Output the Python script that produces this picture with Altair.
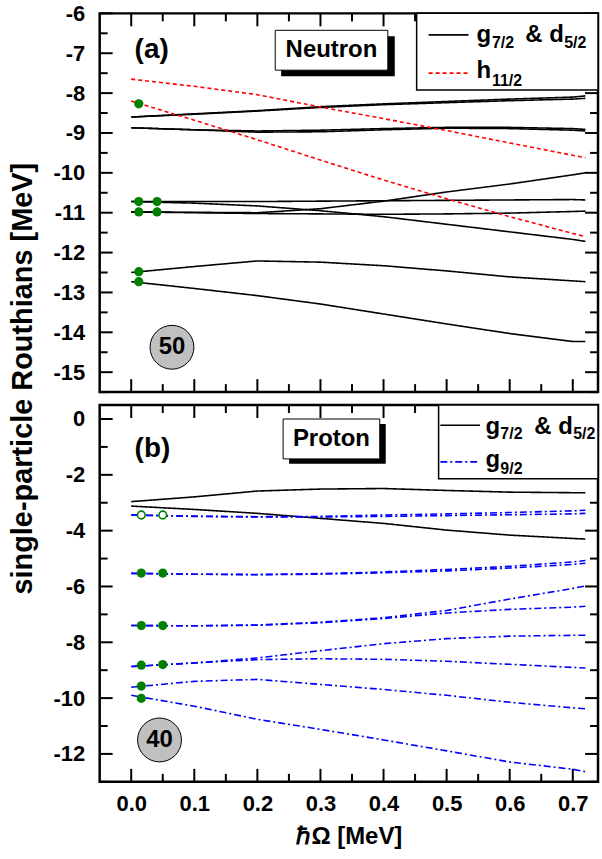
import altair as alt
import pandas as pd

FONT = "Liberation Sans, Arial, Helvetica, sans-serif"

# rotational frequency grid (MeV)
omega = [0.0, 0.1, 0.2, 0.3, 0.4, 0.5, 0.6, 0.7, 0.72]

# ---- neutron Routhians (MeV) ----
neutron_gd = {
    "n1": [-8.60, -8.52, -8.44, -8.34, -8.27, -8.21, -8.15, -8.10, -8.07],
    "n2": [-8.60, -8.53, -8.45, -8.36, -8.29, -8.24, -8.19, -8.15, -8.13],
    "n3": [-8.87, -8.92, -8.95, -8.93, -8.89, -8.86, -8.86, -8.89, -8.91],
    "n4": [-8.87, -8.92, -8.98, -8.97, -8.92, -8.88, -8.89, -8.93, -8.95],
    "n5": [-10.72, -10.72, -10.72, -10.71, -10.70, -10.69, -10.68, -10.67, -10.68],
    "n6": [-10.72, -10.76, -10.83, -10.95, -11.10, -11.29, -11.48, -11.67, -11.72],
    "n7": [-10.98, -10.99, -11.00, -10.90, -10.71, -10.48, -10.28, -10.05, -10.00],
    "n8": [-10.98, -11.00, -11.02, -11.03, -11.04, -11.03, -11.01, -10.97, -10.96],
    "n9": [-12.50, -12.35, -12.21, -12.24, -12.33, -12.46, -12.61, -12.71, -12.73],
    "n10": [-12.73, -12.90, -13.08, -13.29, -13.54, -13.79, -14.03, -14.23, -14.23],
}
neutron_h = {
    "h1": [-7.65, -7.83, -8.04, -8.35, -8.64, -8.94, -9.25, -9.56, -9.62],
    "h2": [-8.20, -8.68, -9.17, -9.68, -10.18, -10.65, -11.10, -11.52, -11.60],
}

# ---- proton Routhians (MeV) ----
proton_gd = {
    "p1": [-2.96, -2.79, -2.58, -2.51, -2.49, -2.56, -2.62, -2.64, -2.64],
    "p2": [-3.12, -3.24, -3.38, -3.56, -3.74, -3.98, -4.16, -4.28, -4.30],
}
proton_g9 = {
    "g1": [-3.44, -3.48, -3.50, -3.49, -3.44, -3.40, -3.35, -3.29, -3.27],
    "g2": [-3.44, -3.49, -3.51, -3.51, -3.49, -3.46, -3.43, -3.40, -3.38],
    "g3": [-5.53, -5.56, -5.57, -5.54, -5.48, -5.39, -5.28, -5.12, -5.07],
    "g4": [-5.53, -5.56, -5.58, -5.56, -5.51, -5.44, -5.34, -5.21, -5.17],
    "g5": [-7.40, -7.41, -7.38, -7.28, -7.12, -6.86, -6.45, -6.07, -5.98],
    "g6": [-7.40, -7.41, -7.39, -7.30, -7.15, -6.95, -6.82, -6.74, -6.71],
    "g7": [-8.87, -8.74, -8.56, -8.30, -8.05, -7.87, -7.78, -7.75, -7.75],
    "g8": [-8.87, -8.74, -8.62, -8.59, -8.61, -8.68, -8.79, -8.90, -8.92],
    "g9": [-9.61, -9.40, -9.33, -9.51, -9.69, -9.90, -10.15, -10.35, -10.38],
    "g10": [-9.90, -10.29, -10.76, -11.12, -11.50, -11.89, -12.29, -12.55, -12.64],
}

# occupied orbitals marked at the two lowest frequencies
neutron_dot_omega = [0.012, 0.041]
neutron_dots_first = [-8.27, -10.72, -10.98, -12.48, -12.73]
neutron_dots_second = [-10.72, -10.98]
proton_dot_omega = [0.016, 0.05]
proton_dots_first = [-5.52, -7.40, -8.82, -9.57, -10.01]
proton_dots_second = [-5.52, -7.40, -8.80]
proton_open_dots = [-3.44, -3.44]

# axis ticks
x_major = [0.0, 0.1, 0.2, 0.3, 0.4, 0.5, 0.6, 0.7]
x_minor = [0.05, 0.15, 0.25, 0.35, 0.45, 0.55, 0.65]
n_major = [-15, -14, -13, -12, -11, -10, -9, -8, -7, -6]
n_minor = [-15.5, -14.5, -13.5, -12.5, -11.5, -10.5, -9.5, -8.5, -7.5, -6.5]
p_major = [-12, -10, -8, -6, -4, -2, 0]
p_minor = [-13, -11, -9, -7, -5, -3, -1]

W = 500
H_TOP = 380
H_BOT = 378
MAJ, MIN = 13, 8

xscale = alt.Scale(domain=[-0.05, 0.74], nice=False, zero=False)
n_yscale = alt.Scale(domain=[-15.5, -6], nice=False, zero=False)
p_yscale = alt.Scale(domain=[-13, 0.5], nice=False, zero=False)

BLACK, RED, BLUE, GREEN = "#000000", "#ff0000", "#0000ff", "#008000"
SOLID, DASHED, DASHDOT = [1, 0], [4, 3], [7, 3, 2, 3]


def long_table(curves):
    rows = []
    for name, vals in curves.items():
        for w, e in zip(omega, vals):
            rows.append({"omega": w, "e": e, "curve": name})
    return pd.DataFrame(rows)


def lines(curves, ys, color, dash):
    return alt.Chart(long_table(curves)).mark_line(
        color=color, strokeWidth=1.6, strokeDash=dash
    ).encode(
        x=alt.X("omega:Q", scale=xscale, axis=None),
        y=alt.Y("e:Q", scale=ys, axis=None),
        detail="curve:N",
    )


def dots_at(w, vals, ys):
    df = pd.DataFrame({"omega": [w] * len(vals), "e": vals})
    return alt.Chart(df).mark_circle(size=85, color=GREEN, opacity=1).encode(
        x=alt.X("omega:Q", scale=xscale, axis=None),
        y=alt.Y("e:Q", scale=ys, axis=None))


def frame_ticks(ys, y_major, y_minor, height):
    out = []
    for vals, ln in ((x_major, MAJ), (x_minor, MIN)):
        d = pd.DataFrame({"v": vals})
        base = alt.Chart(d).mark_rule(color="black", strokeWidth=2)
        out.append(base.encode(x=alt.X("v:Q", scale=xscale, axis=None),
                               y=alt.value(height), y2=alt.value(height - ln)))
        out.append(base.encode(x=alt.X("v:Q", scale=xscale, axis=None),
                               y=alt.value(0), y2=alt.value(ln)))
    for vals, ln in ((y_major, MAJ), (y_minor, MIN)):
        d = pd.DataFrame({"v": vals})
        base = alt.Chart(d).mark_rule(color="black", strokeWidth=2)
        out.append(base.encode(y=alt.Y("v:Q", scale=ys, axis=None),
                               x=alt.value(0), x2=alt.value(ln)))
        out.append(base.encode(y=alt.Y("v:Q", scale=ys, axis=None),
                               x=alt.value(W), x2=alt.value(W - ln)))
    return out


def label_axis(vals, title=None):
    kw = dict(values=vals, ticks=False, domain=False, grid=False, labelFont=FONT,
              labelFontSize=22, labelFontWeight="bold", labelColor="black",
              labelPadding=15, labelOverlap=False, labelExpr="'' + datum.value")
    if title:
        kw.update(title=title, titleFont=FONT, titleFontSize=29, titleFontWeight="bold",
                  titleColor="black", titleAngle=270, titleX=-68, titleY=366,
                  titleAlign="center", titleBaseline="alphabetic")
    else:
        kw.update(title=None)
    return alt.Axis(**kw)


def rect(x, x2, y, y2, ys, **style):
    d = pd.DataFrame({"x": [x], "x2": [x2], "y": [y], "y2": [y2]})
    return alt.Chart(d).mark_rect(**style).encode(
        x=alt.X("x:Q", scale=xscale, axis=None), x2="x2:Q",
        y=alt.Y("y:Q", scale=ys, axis=None), y2="y2:Q")


def text(x, y, s, ys, size=24, align="left", baseline="alphabetic"):
    d = pd.DataFrame({"x": [x], "y": [y], "t": [s]})
    return alt.Chart(d).mark_text(font=FONT, fontSize=size, fontWeight="bold", color="black",
                                  align=align, baseline=baseline).encode(
        x=alt.X("x:Q", scale=xscale, axis=None),
        y=alt.Y("y:Q", scale=ys, axis=None), text="t:N")


def sample(x, x2, y, ys, color, dash):
    d = pd.DataFrame({"x": [x], "x2": [x2], "y": [y]})
    return alt.Chart(d).mark_rule(color=color, strokeWidth=1.6, strokeDash=dash).encode(
        x=alt.X("x:Q", scale=xscale, axis=None), x2="x2:Q",
        y=alt.Y("y:Q", scale=ys, axis=None))


def badge(x, y, s, ys):
    d = pd.DataFrame({"x": [x], "y": [y], "t": [s]})
    circ = alt.Chart(d).mark_circle(size=1936, color="#c0c0c0", stroke="black",
                                    strokeWidth=1, opacity=1).encode(
        x=alt.X("x:Q", scale=xscale, axis=None), y=alt.Y("y:Q", scale=ys, axis=None))
    return [circ, text(x, y, s, ys, size=24, align="center", baseline="middle")]


def axis_anchor(yvals, ys, yaxis, xaxis=None):
    # invisible points that carry the label-only axes
    d = pd.DataFrame({"x": [x_major[0]] * len(yvals), "v": yvals})
    return alt.Chart(d).mark_point(opacity=0).encode(
        x=alt.X("x:Q", scale=xscale, axis=xaxis),
        y=alt.Y("v:Q", scale=ys, axis=yaxis))


# ---------------- neutron panel ----------------
top_layers = [axis_anchor(n_major, n_yscale,
                          label_axis(n_major, "single-particle Routhians [MeV]"))]
top_layers += frame_ticks(n_yscale, n_major, n_minor, H_TOP)
top_layers += [
    lines(neutron_gd, n_yscale, BLACK, SOLID),
    lines(neutron_h, n_yscale, RED, DASHED),
    dots_at(neutron_dot_omega[0], neutron_dots_first, n_yscale),
    dots_at(neutron_dot_omega[1], neutron_dots_second, n_yscale),
    text(0.0054, -6.925, "(a)", n_yscale, size=28, baseline="middle"),
    rect(0.2377, 0.4178, -6.575, -7.575, n_yscale, color="black"),
    rect(0.2283, 0.4068, -6.425, -7.425, n_yscale, fill="white", stroke="black", strokeWidth=1),
    text(0.3174, -6.925, "Neutron", n_yscale, size=24, align="center", baseline="middle"),
    rect(0.4525, 0.74, -6.0, -7.92, n_yscale, fill="white", stroke="black", strokeWidth=1.5),
    sample(0.4715, 0.5347, -6.54, n_yscale, BLACK, SOLID),
    sample(0.4715, 0.5347, -7.50, n_yscale, RED, DASHED),
    text(0.5473, -6.71, "g", n_yscale),
    text(0.5718, -6.875, "7/2", n_yscale, size=16),
    text(0.6247, -6.71, "& d", n_yscale),
    text(0.6864, -6.875, "5/2", n_yscale, size=16),
    text(0.5473, -7.625, "h", n_yscale),
    text(0.5718, -7.825, "11/2", n_yscale, size=16),
]
top_layers += badge(0.0646, -14.375, "50", n_yscale)

top = alt.layer(*top_layers).properties(width=W, height=H_TOP).resolve_axis(
    x="independent", y="independent")

# ---------------- proton panel ----------------
x_axis = alt.Axis(values=x_major, format=".1f", ticks=False, domain=False, grid=False,
                  labelFont=FONT, labelFontSize=22, labelFontWeight="bold",
                  labelColor="black", labelPadding=12, labelFlush=False,
                  labelOverlap=False, title="ℏΩ [MeV]", titleFont=FONT,
                  titleFontSize=24, titleFontWeight="bold", titleColor="black",
                  titlePadding=10)

bottom_layers = [axis_anchor(p_major, p_yscale, label_axis(p_major), x_axis)]
bottom_layers += frame_ticks(p_yscale, p_major, p_minor, H_BOT)
bottom_layers += [
    lines(proton_gd, p_yscale, BLACK, SOLID),
    lines(proton_g9, p_yscale, BLUE, DASHDOT),
    dots_at(proton_dot_omega[0], proton_dots_first, p_yscale),
    dots_at(proton_dot_omega[1], proton_dots_second, p_yscale),
    alt.Chart(pd.DataFrame({"omega": proton_dot_omega, "e": proton_open_dots})).mark_point(
        size=60, fill="white", filled=True, stroke=GREEN, strokeWidth=1.6,
        opacity=1, shape="circle").encode(
        x=alt.X("omega:Q", scale=xscale, axis=None), y=alt.Y("e:Q", scale=p_yscale, axis=None)),
    text(0.0054, -1.071, "(b)", p_yscale, size=28, baseline="middle"),
    rect(0.2503, 0.4035, -0.1786, -1.607, p_yscale, color="black"),
    rect(0.2408, 0.3940, 0.0, -1.4286, p_yscale, fill="white", stroke="black", strokeWidth=1),
    text(0.3174, -0.714, "Proton", p_yscale, size=24, align="center", baseline="middle"),
    rect(0.4873, 0.74, 0.5, -2.143, p_yscale, fill="white", stroke="black", strokeWidth=1.5),
    sample(0.49, 0.553, -0.225, p_yscale, BLACK, SOLID),
    sample(0.49, 0.553, -1.536, p_yscale, BLUE, DASHDOT),
    text(0.5615, -0.525, "g", p_yscale),
    text(0.5852, -0.714, "7/2", p_yscale, size=16),
    text(0.639, -0.525, "& d", p_yscale),
    text(0.7006, -0.714, "5/2", p_yscale, size=16),
    text(0.5615, -1.714, "g", p_yscale),
    text(0.5852, -1.964, "9/2", p_yscale, size=16),
]
bottom_layers += badge(0.0449, -11.5, "40", p_yscale)

bottom = alt.layer(*bottom_layers).properties(width=W, height=H_BOT).resolve_axis(
    x="independent", y="independent")

chart = alt.vconcat(top, bottom, spacing=13, bounds="flush").properties(
    padding={"left": 7, "top": -1, "right": 1, "bottom": 0},
    background="white",
).configure_view(stroke="black", strokeWidth=2.5)

chart.save("out.html", embed_options={"renderer": "svg", "actions": False})
